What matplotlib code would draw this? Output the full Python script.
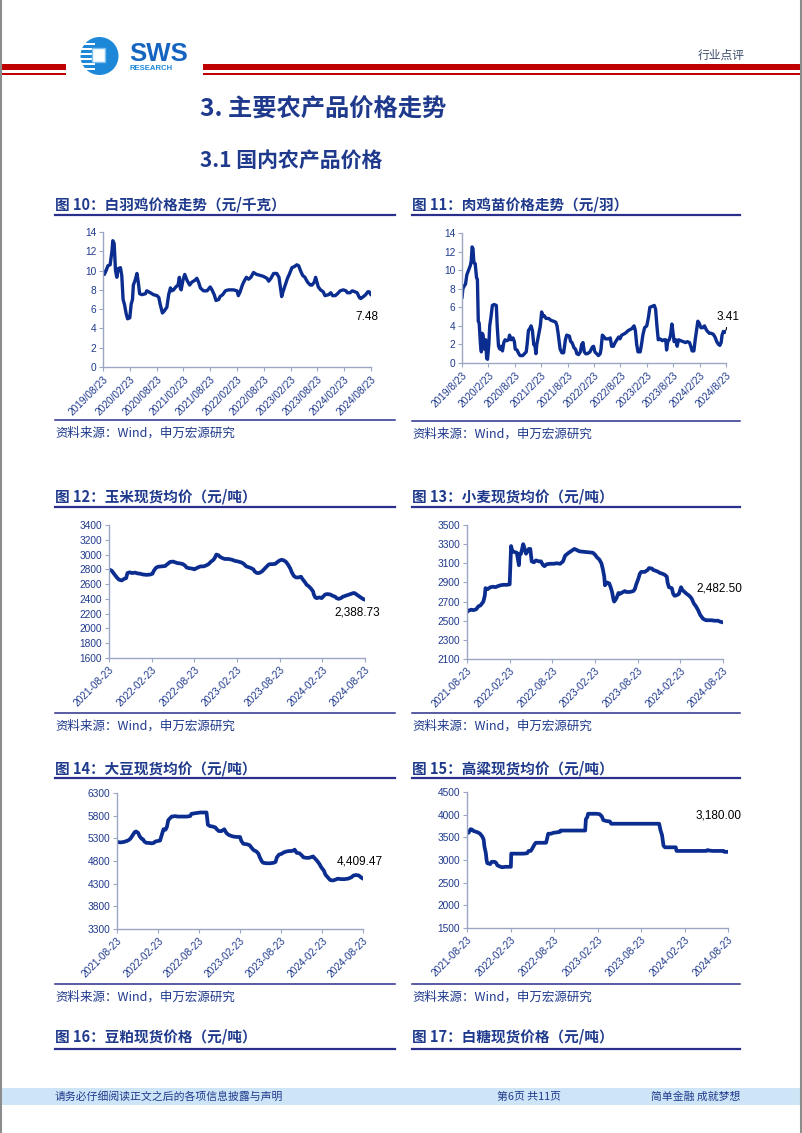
import numpy as np
import matplotlib
matplotlib.use('Agg')
import matplotlib.pyplot as plt
from matplotlib.patches import Rectangle, Circle

plt.rcParams['font.family'] = ['Noto Sans CJK SC', 'DejaVu Sans']

W, H = 802, 1133
NAVY = '#1F3A8C'
LINE = '#0B2D8F'
AXIS = '#9AA6C4'
RULE = '#2B2F8C'

# ---- data (months since first tick, value) ----
broiler_m = [0, 0.3, 0.7, 1.1, 1.6, 2.0, 2.2, 2.5, 2.8, 3.1, 3.4, 3.9, 4.2, 4.5, 4.8, 5.2, 5.5, 6.0, 6.3, 6.6,
             6.8, 7.2, 7.6, 7.9, 8.2, 8.7, 9.5, 9.8, 10.6, 11.3, 12.1, 12.5, 12.8, 13.3, 13.7, 14.3, 14.7, 15.1,
             15.4, 15.8, 16.3, 16.8, 17.1, 17.3, 17.5, 17.9, 18.3, 18.8, 19.4, 19.9, 20.6, 21.0, 21.4, 21.8,
             22.5, 23.3, 24.0, 24.4, 24.9, 25.3, 25.9, 26.2, 26.8, 27.4, 28.1, 29.2, 30.0, 30.3, 30.7, 31.2,
             31.6, 32.1, 32.6, 33.1, 33.7, 34.4, 35.2, 35.9, 36.7, 37.1, 37.6, 38.2, 38.9, 39.4, 39.8, 40.0,
             40.3, 40.8, 41.3, 41.7, 42.3, 42.8, 43.4, 43.8, 44.3, 44.7, 45.2, 45.8, 46.4, 46.8, 47.3, 47.6,
             47.9, 48.2, 48.7, 49.3, 49.7, 50.5, 51.0, 51.4, 52.0, 52.5, 53.1, 53.8, 54.4, 54.7, 55.3, 55.8,
             56.4, 56.9, 57.4, 57.7, 58.3, 58.8, 59.3, 59.6, 60]
broiler_v = [10.0, 9.6, 10.0, 10.5, 10.6, 12.0, 13.1, 12.8, 10.0, 9.3, 10.2, 10.3, 9.5, 7.0, 6.5, 5.5, 5.0, 5.1,
             6.5, 7.0, 8.5, 9.0, 9.7, 8.8, 7.6, 7.5, 7.6, 7.9, 7.7, 7.5, 7.4, 7.2, 6.5, 5.6, 5.8, 6.2, 7.5, 8.2,
             7.9, 8.0, 8.3, 8.5, 9.3, 8.2, 8.0, 9.0, 9.6, 9.0, 8.5, 8.8, 9.0, 9.2, 8.8, 8.2, 7.9, 7.9, 8.3, 8.0,
             7.5, 6.9, 7.0, 7.3, 7.5, 7.9, 8.0, 8.0, 7.9, 7.4, 7.8, 8.5, 8.9, 9.3, 9.1, 9.3, 9.8, 9.6, 9.5, 9.4,
             9.2, 8.9, 9.2, 9.7, 9.7, 9.3, 8.0, 7.3, 7.8, 8.5, 9.2, 9.6, 10.3, 10.4, 10.6, 10.5, 9.9, 9.5, 9.3,
             8.8, 8.5, 8.5, 8.8, 9.3, 8.8, 8.3, 8.0, 7.8, 7.4, 7.5, 7.7, 7.4, 7.4, 7.6, 7.9, 8.0, 7.9, 7.7, 7.7,
             7.9, 7.8, 7.7, 7.2, 7.1, 7.3, 7.5, 7.8, 7.8, 7.48]

chick_m = [0, 0.2, 0.5, 0.8, 1.1, 1.5, 1.9, 2.1, 2.3, 2.5, 2.7, 3.0, 3.3, 3.5, 3.7, 3.9, 4.2, 4.4, 4.6, 4.8,
           5.1, 5.4, 5.6, 5.8, 6.1, 6.3, 6.6, 6.9, 7.3, 7.8, 8.0, 8.3, 8.6, 8.9, 9.2, 9.5, 9.8, 10.2, 10.6,
           10.8, 11.2, 11.6, 11.9, 12.1, 12.5, 12.9, 13.2, 13.8, 14.2, 14.6, 14.8, 15.1, 15.4, 15.7, 16.0,
           16.3, 16.6, 16.8, 17.0, 17.4, 17.8, 18.1, 18.4, 18.7, 19.1, 19.7, 20.2, 20.8, 21.3, 21.6, 21.9,
           22.3, 22.7, 23.1, 23.5, 23.8, 24.4, 24.7, 25.0, 25.5, 25.8, 26.1, 26.5, 26.9, 27.2, 27.5, 27.8,
           28.1, 28.5, 29.1, 29.6, 29.9, 30.2, 30.6, 31.0, 31.4, 31.6, 31.9, 32.3, 32.6, 33.3, 33.7, 34.0,
           34.4, 34.8, 35.2, 35.6, 35.9, 36.3, 37.1, 37.8, 38.6, 39.1, 39.4, 39.7, 40.0, 40.5, 40.8, 41.1,
           41.5, 42.0, 42.4, 42.7, 43.2, 43.7, 44.0, 44.3, 44.6, 45.0, 45.5, 45.9, 46.3, 46.5, 46.8, 47.1,
           47.4, 47.7, 47.9, 48.2, 48.6, 48.9, 49.2, 49.7, 50.3, 50.8, 51.2, 51.7, 52.0, 52.3, 52.7, 53.0,
           53.3, 53.6, 53.9, 54.3, 54.7, 55.1, 55.5, 55.8, 56.2, 56.6, 57.1, 57.5, 57.9, 58.3, 58.6, 58.9,
           59.1, 59.4, 59.7, 60]
chick_v = [7.0, 8.0, 8.3, 8.5, 9.5, 10.0, 10.5, 11.0, 12.5, 12.3, 10.8, 10.7, 9.2, 9.0, 4.5, 4.3, 2.0, 1.2,
           3.2, 3.0, 1.5, 2.5, 0.5, 0.4, 2.0, 4.0, 5.0, 6.2, 6.3, 6.2, 4.0, 1.8, 1.5, 1.8, 1.3, 2.2, 2.5, 2.4,
           2.5, 3.0, 2.5, 2.7, 2.3, 1.5, 1.4, 1.0, 0.8, 0.8, 1.0, 1.2, 2.0, 3.5, 3.7, 4.0, 3.5, 2.0, 1.8, 1.0,
           2.0, 3.0, 4.0, 5.5, 5.0, 5.1, 4.8, 4.8, 4.6, 4.5, 4.4, 4.0, 3.0, 1.5, 1.1, 1.1, 2.5, 3.0, 2.9, 2.3,
           2.2, 1.6, 1.5, 1.0, 0.9, 1.2, 2.0, 2.2, 1.2, 1.0, 1.0, 1.2, 1.7, 1.8, 1.2, 1.0, 0.8, 1.0, 1.5, 3.0,
           2.8, 2.6, 2.6, 2.7, 1.8, 1.8, 2.2, 2.5, 2.8, 2.6, 3.0, 3.2, 3.5, 3.7, 4.0, 3.5, 2.0, 1.2, 1.2, 2.0,
           3.0, 3.8, 4.0, 5.0, 6.0, 6.1, 6.2, 5.8, 4.0, 2.5, 2.6, 2.4, 2.5, 2.5, 1.4, 2.4, 2.5, 3.0, 4.2, 3.5,
           2.3, 2.5, 1.8, 2.5, 2.4, 2.3, 2.2, 2.3, 2.2, 1.8, 1.3, 1.3, 2.5, 3.5, 4.5, 4.3, 3.8, 3.8, 4.0, 3.6,
           3.4, 3.2, 3.2, 3.1, 2.8, 2.3, 2.0, 1.9, 2.2, 3.0, 3.4, 3.3, 3.41]

corn_m = [0, 0.4, 0.7, 1.1, 1.4, 1.8, 2.1, 2.4, 2.6, 2.9, 3.2, 3.7, 4.0, 4.4, 4.8, 5.3, 5.8, 6.1, 6.3, 6.6,
          6.9, 7.4, 7.9, 8.2, 8.6, 9.0, 9.3, 9.6, 10.0, 10.4, 10.7, 10.9, 11.3, 11.7, 12.0, 12.2, 12.6, 12.9,
          13.3, 13.6, 14.0, 14.3, 14.7, 14.9, 15.1, 15.4, 15.6, 16.0, 16.3, 16.8, 17.3, 17.7, 18.2, 18.7,
          19.0, 19.3, 19.6, 19.9, 20.3, 20.5, 20.8, 21.1, 21.5, 21.8, 22.1, 22.4, 22.6, 23.0, 23.4, 23.7,
          24.0, 24.3, 24.6, 24.9, 25.2, 25.5, 25.7, 26.0, 26.3, 26.6, 27.0, 27.2, 27.6, 27.8, 28.1, 28.4,
          28.7, 28.8, 29.0, 29.2, 29.6, 29.9, 30.2, 30.4, 30.7, 31.1, 31.5, 31.8, 32.0, 32.3, 32.6, 32.9,
          33.2, 33.5, 33.8, 34.1, 34.4, 34.6, 34.8, 35.1, 35.4, 35.7, 36]
corn_v = [2800, 2780, 2740, 2690, 2660, 2650, 2670, 2680, 2750, 2760, 2750, 2755, 2745, 2740, 2730, 2725,
          2730, 2740, 2780, 2820, 2835, 2840, 2845, 2870, 2900, 2905, 2895, 2885, 2880, 2870, 2850, 2825,
          2815, 2810, 2800, 2810, 2830, 2840, 2840, 2850, 2870, 2900, 2930, 2960, 3000, 2990, 2970, 2950,
          2940, 2940, 2930, 2915, 2905, 2890, 2870, 2840, 2830, 2820, 2800, 2770, 2750, 2750, 2770, 2800,
          2830, 2860, 2870, 2870, 2875, 2900, 2920, 2930, 2920, 2900, 2860, 2810, 2760, 2710, 2690, 2690,
          2700, 2670, 2620, 2590, 2570, 2540, 2500, 2460, 2420, 2410, 2420, 2410, 2440, 2460, 2465, 2460,
          2440, 2430, 2410, 2400, 2410, 2430, 2440, 2450, 2460, 2470, 2480, 2475, 2460, 2440, 2420, 2400,
          2388.73]

wheat_m = [0, 0.2, 0.6, 0.9, 1.3, 1.6, 1.9, 2.1, 2.3, 2.5, 2.6, 2.9, 3.3, 3.7, 4.0, 4.3, 4.7, 5.1, 5.6,
           6.0, 6.2, 6.4, 6.6, 7.0, 7.3, 7.4, 7.6, 7.9, 8.0, 8.3, 8.7, 8.9, 9.1, 9.4, 9.7, 10.1, 10.4, 10.7,
           10.9, 11.2, 11.7, 12.2, 12.6, 13.1, 13.5, 13.8, 14.3, 14.7, 15.1, 15.4, 15.8, 16.4, 17.1, 17.7,
           18.0, 18.3, 18.6, 18.9, 19.1, 19.3, 19.4, 19.5, 19.7, 20.0, 20.2, 20.4, 20.6, 20.7, 20.9, 21.1,
           21.3, 21.5, 21.7, 22.2, 22.4, 22.9, 23.4, 23.6, 23.8, 24.1, 24.3, 24.5, 25.0, 25.4, 25.6, 26.0,
           26.2, 26.6, 26.9, 27.1, 27.5, 27.8, 28.1, 28.2, 28.4, 28.8, 29.0, 29.2, 29.6, 29.8, 30.1, 30.3,
           30.6, 30.9, 31.1, 31.4, 31.6, 31.9, 32.2, 32.5, 32.8, 33.2, 33.6, 33.9, 34.4, 34.8, 35.3, 35.6, 36]
wheat_v = [2590, 2605, 2615, 2610, 2620, 2650, 2660, 2680, 2700, 2760, 2840, 2830, 2850, 2855, 2850, 2860,
           2870, 2875, 2875, 2880, 3280, 3220, 3220, 3210, 3080, 3200, 3200, 3300, 3280, 3200, 3250, 3250,
           3120, 3110, 3130, 3120, 3120, 3080, 3070, 3090, 3095, 3095, 3100, 3095, 3120, 3180, 3210, 3230,
           3250, 3240, 3225, 3220, 3215, 3210, 3190, 3160, 3140, 3100, 3040, 2960, 2870, 2880, 2900, 2890,
           2850, 2800, 2720, 2700, 2720, 2750, 2790, 2780, 2790, 2810, 2800, 2800, 2810, 2830, 2880, 2940,
           2990, 3010, 3010, 3030, 3050, 3045, 3030, 3020, 3010, 3000, 2990, 2980, 2960, 2900, 2850, 2840,
           2780, 2760, 2770, 2780, 2850, 2820, 2800, 2780, 2770, 2750, 2730, 2680, 2650, 2610, 2560, 2520,
           2505, 2505, 2505, 2500, 2500, 2490, 2482.5]

soy_m = [0, 0.5, 1.0, 1.4, 1.7, 2.0, 2.3, 2.6, 2.8, 3.1, 3.3, 3.6, 3.8, 4.0, 4.3, 4.6, 5.1, 5.4, 5.6, 5.9,
         6.3, 6.6, 6.8, 7.1, 7.3, 7.5, 7.8, 8.0, 8.5, 8.9, 9.2, 9.7, 10.2, 10.7, 10.9, 11.3, 11.7, 12.2,
         12.7, 13.1, 13.3, 13.6, 14.0, 14.4, 14.6, 14.9, 15.3, 15.7, 16.0, 16.3, 16.6, 17.0, 17.5, 18.0,
         18.2, 18.5, 19.0, 19.4, 19.7, 20.0, 20.4, 20.7, 20.9, 21.2, 21.4, 21.9, 22.4, 22.9, 23.2, 23.4,
         23.7, 24.1, 24.4, 24.8, 25.2, 25.5, 25.8, 26.0, 26.3, 26.7, 27.0, 27.3, 27.7, 28.1, 28.5, 28.7,
         29.0, 29.3, 29.6, 29.9, 30.3, 30.5, 30.9, 31.2, 31.6, 32.0, 32.3, 32.8, 33.3, 33.8, 34.3, 34.6,
         35.0, 35.4, 35.7, 36]
soy_v = [5220, 5210, 5220, 5240, 5260, 5300, 5370, 5440, 5450, 5420, 5350, 5290, 5280, 5230, 5200, 5200,
         5190, 5200, 5230, 5240, 5250, 5400, 5500, 5490, 5550, 5700, 5750, 5780, 5790, 5780, 5780, 5780,
         5780, 5790, 5840, 5850, 5860, 5870, 5870, 5870, 5600, 5570, 5560, 5540, 5500, 5460, 5460, 5500,
         5420, 5380, 5360, 5340, 5330, 5330, 5240, 5180, 5170, 5150, 5090, 5040, 5010, 4960, 4880, 4790,
         4760, 4750, 4750, 4760, 4780, 4880, 4940, 4960, 4990, 5010, 5020, 5020, 5030, 5050, 4980, 4970,
         4930, 4880, 4870, 4870, 4890, 4900, 4850, 4800, 4740, 4660, 4580, 4500, 4430, 4380, 4370, 4390,
         4410, 4400, 4400, 4410, 4440, 4480, 4490, 4480, 4440, 4409.47]

sorghum_m = [0, 0.2, 0.5, 0.7, 0.9, 1.3, 1.6, 1.8, 2.1, 2.3, 2.4, 2.6, 2.7, 2.8, 3.2, 3.4, 3.8, 4.0, 4.2,
             4.5, 4.8, 5.3, 5.7, 6.05, 6.1, 6.4, 6.9, 7.3, 7.8, 8.3, 8.5, 8.8, 9.1, 9.3, 9.5, 10.1, 10.6,
             10.9, 11.0, 11.2, 11.6, 11.9, 12.4, 12.8, 12.9, 13.3, 13.8, 14.7, 15.6, 16.3, 16.4, 16.6, 16.7,
             17.2, 17.9, 18.3, 18.6, 18.8, 19.2, 19.7, 19.9, 20.6, 22.0, 23.8, 25.7, 26.5, 26.7, 26.9, 27.1,
             27.3, 27.7, 28.4, 28.8, 28.9, 29.8, 31.2, 32.6, 33.0, 33.2, 33.3, 33.9, 34.9, 35.4, 35.5, 36]
sorghum_v = [3600, 3600, 3680, 3670, 3640, 3620, 3600, 3580, 3520, 3450, 3300, 3150, 3000, 2930, 2910, 2960,
             2960, 2940, 2880, 2860, 2840, 2850, 2850, 2850, 3140, 3140, 3140, 3140, 3140, 3150, 3200, 3200,
             3280, 3340, 3380, 3380, 3380, 3380, 3440, 3580, 3580, 3600, 3610, 3620, 3650, 3650, 3650, 3650,
             3650, 3650, 3900, 3950, 4020, 4020, 4020, 4010, 3960, 3880, 3860, 3850, 3800, 3800, 3800, 3800,
             3800, 3800, 3650, 3550, 3320, 3280, 3280, 3280, 3280, 3200, 3200, 3200, 3200, 3200, 3220, 3210,
             3200, 3200, 3200, 3180, 3180]

labels_5y_a = ['2019/08/23', '2020/02/23', '2020/08/23', '2021/02/23', '2021/08/23', '2022/02/23',
               '2022/08/23', '2023/02/23', '2023/08/23', '2024/02/23', '2024/08/23']
labels_5y_b = ['2019/8/23', '2020/2/23', '2020/8/23', '2021/2/23', '2021/8/23', '2022/2/23',
               '2022/8/23', '2023/2/23', '2023/8/23', '2024/2/23', '2024/8/23']
labels_3y = ['2021-08-23', '2022-02-23', '2022-08-23', '2023-02-23', '2023-08-23', '2024-02-23', '2024-08-23']

fig = plt.figure(figsize=(W / 100, H / 100), dpi=100)
page = fig.add_axes([0, 0, 1, 1])
page.set_xlim(0, W)
page.set_ylim(H, 0)
page.axis('off')


def box(l, t, r, b):
    return [l / W, 1 - b / H, (r - l) / W, (b - t) / H]


# ---- page header ----
page.add_patch(Rectangle((0, 64), 66, 6, color='#C00000', lw=0))
page.add_patch(Rectangle((0, 73), 66, 1.6, color='#C00000', lw=0))
page.add_patch(Rectangle((203, 64), 599, 6, color='#C00000', lw=0))
page.add_patch(Rectangle((203, 73), 599, 1.6, color='#C00000', lw=0))
page.add_patch(Circle((99.5, 56), 19, color='#1E88D8', lw=0))
for yy in [43, 48, 53, 58, 63, 68]:
    page.add_patch(Rectangle((79, yy), 16, 2.2, color='white', lw=0))
page.add_patch(Rectangle((92, 48), 13, 14, facecolor='white', edgecolor='#7CC0EE', lw=1))
page.text(129, 54, 'SWS', fontsize=18.5, fontweight='bold', color='#1565C0', va='center', ha='left',
          family=['Liberation Sans'])
page.text(130, 68.5, 'RESEARCH', fontsize=5.6, fontweight='bold', color='#1E88D8', va='center', ha='left',
          family=['Liberation Sans'])
page.text(745, 55, '行业点评', fontsize=8.5, color='#3A4A6B', ha='right', va='center')

page.text(200, 110, '3. 主要农产品价格走势', fontsize=17.5, fontweight='bold', color=NAVY, va='center')
page.text(200, 160, '3.1 国内农产品价格', fontsize=15, fontweight='bold', color=NAVY, va='center')

# page edges
page.plot([1, 1], [0, H], color='#8C8C8C', lw=1.5)
page.plot([800.5, 800.5], [0, H], color='#8C8C8C', lw=1.5)


def panel(x0, x1, ty, uy, sy, title):
    page.text(x0, ty, title, fontsize=10.5, fontweight='bold', color=NAVY, va='center')
    page.plot([x0, x1], [uy, uy], color=RULE, lw=1.6)
    if sy is not None:
        page.plot([x0, x1], [sy, sy], color=RULE, lw=1.1)
        page.text(x0, sy + 13, '资料来源：Wind，申万宏源研究', fontsize=9, color=NAVY, va='center')


panel(55, 395, 205, 215, 420, '图 10：白羽鸡价格走势（元/千克）')
panel(412, 740, 205, 215, 421, '图 11：肉鸡苗价格走势（元/羽）')
panel(55, 395, 497, 507, 713, '图 12：玉米现货均价（元/吨）')
panel(412, 740, 497, 507, 713, '图 13：小麦现货均价（元/吨）')
panel(55, 395, 768, 778, 984, '图 14：大豆现货均价（元/吨）')
panel(412, 740, 768, 778, 984, '图 15：高粱现货均价（元/吨）')
panel(55, 395, 1037, 1049, None, '图 16：豆粕现货价格（元/吨）')
panel(412, 740, 1037, 1049, None, '图 17：白糖现货价格（元/吨）')

# footer
page.add_patch(Rectangle((2, 1088), 798, 17, color='#CDE5F7', lw=0))
page.text(55, 1097, '请务必仔细阅读正文之后的各项信息披露与声明', fontsize=7.8, color=NAVY, va='center')
page.text(497, 1097, '第6页 共11页', fontsize=7.8, color=NAVY, va='center')
page.text(740, 1097, '简单金融 成就梦想', fontsize=7.8, color=NAVY, va='center', ha='right')


def chart(rect, months, values, ylim, ystep, xlabels, last_text, offset, lw=2.4, arrow=False):
    ax = fig.add_axes(box(*rect))
    ax.patch.set_alpha(0)
    ax.plot(months, values, color=LINE, lw=lw, solid_joinstyle='round', solid_capstyle='round')
    span = 6 * (len(xlabels) - 1)
    ax.set_xlim(0, span)
    ax.set_ylim(*ylim)
    ax.set_xticks(np.arange(0, span + 1, 6))
    ax.set_xticklabels(xlabels, rotation=45, ha='right', va='top', rotation_mode='anchor')
    ax.set_yticks(np.arange(ylim[0], ylim[1] + ystep / 2, ystep))
    for s in ['top', 'right']:
        ax.spines[s].set_visible(False)
    for s in ['left', 'bottom']:
        ax.spines[s].set_color(AXIS)
        ax.spines[s].set_linewidth(1.0)
    ax.tick_params(axis='both', colors=AXIS, labelcolor=NAVY, labelsize=7.3, length=3, width=0.8, pad=2)
    for t in ax.get_xticklabels() + ax.get_yticklabels():
        t.set_family(['Liberation Sans'])
    ap = dict(arrowstyle='-', color='black', lw=0.8, shrinkA=1, shrinkB=1) if arrow else None
    ax.annotate(last_text, xy=(months[-1], values[-1]), xytext=offset, textcoords='offset pixels',
                ha='center', va='center', fontsize=8.5, family=['Liberation Sans'], arrowprops=ap)
    return ax


chart((103, 232, 371, 367), broiler_m, broiler_v, (0, 14), 2, labels_5y_a, '7.48', (-4, -22))
chart((462, 233, 726, 363), chick_m, chick_v, (0, 14), 2, labels_5y_b, '3.41', (2, 14), arrow=True)
chart((109, 525, 365, 658), corn_m, corn_v, (1600, 3400), 200, labels_3y, '2,388.73', (-8, -13), lw=2.7)
chart((467, 525, 723, 659), wheat_m, wheat_v, (2100, 3500), 200, labels_3y, '2,482.50', (-4, 34), lw=2.7)
chart((117, 793, 363, 929), soy_m, soy_v, (3300, 6300), 500, labels_3y, '4,409.47', (-3, 17), lw=2.7)
chart((467, 792, 728, 928), sorghum_m, sorghum_v, (1500, 4500), 500, labels_3y, '3,180.00', (-9, 36), lw=2.7)

fig.savefig('out.png', dpi=100)
